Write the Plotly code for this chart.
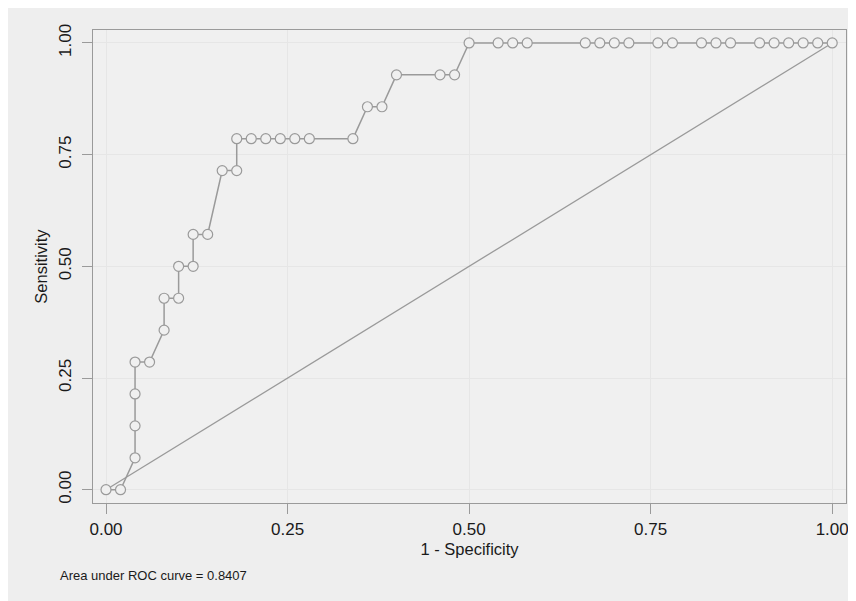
import plotly.graph_objects as go

# 1 - Specificity (false positive rate) and Sensitivity at each cutoff
fpr = [0.00, 0.02, 0.04, 0.04, 0.04, 0.04, 0.06, 0.08, 0.08, 0.10, 0.10, 0.12,
       0.12, 0.14, 0.16, 0.18, 0.18, 0.20, 0.22, 0.24, 0.26, 0.28, 0.34, 0.36,
       0.38, 0.40, 0.46, 0.48, 0.50, 0.54, 0.56, 0.58, 0.66, 0.68, 0.70, 0.72,
       0.76, 0.78, 0.82, 0.84, 0.86, 0.90, 0.92, 0.94, 0.96, 0.98, 1.00]
tpr_counts = [0, 0, 1, 2, 3, 4, 4, 5, 6, 6, 7, 7,
              8, 8, 10, 10, 11, 11, 11, 11, 11, 11, 11, 12,
              12, 13, 13, 13, 14, 14, 14, 14, 14, 14, 14, 14,
              14, 14, 14, 14, 14, 14, 14, 14, 14, 14, 14]
n_pos = 14
tpr = [c / n_pos for c in tpr_counts]

ref_x = [0, 1]
ref_y = [0, 1]

tick_vals = [0, 0.25, 0.5, 0.75, 1.0]
tick_text = ["0.00", "0.25", "0.50", "0.75", "1.00"]
auc_text = "Area under ROC curve = 0.8407"

BG = "#eeeeee"
PLOT_BG = "#f0f0f0"
GRAY = "#9a9a9a"
TXT = "#1a1a1a"
FONT = "Liberation Sans Narrow, Liberation Sans, Arial, sans-serif"

fig = go.Figure()
fig.add_trace(go.Scatter(x=ref_x, y=ref_y, mode="lines",
                         line=dict(color=GRAY, width=1.3), showlegend=False,
                         hoverinfo="skip"))
fig.add_trace(go.Scatter(x=fpr, y=tpr, mode="lines+markers",
                         line=dict(color=GRAY, width=1.5),
                         marker=dict(symbol="circle", size=10, color=PLOT_BG,
                                     line=dict(color=GRAY, width=1.2)),
                         showlegend=False))

axis_common = dict(
    tickmode="array", tickvals=tick_vals, ticktext=tick_text,
    showgrid=True, gridcolor="#e6e6e6", gridwidth=1,
    zeroline=False, showline=True, mirror=True, linecolor=GRAY, linewidth=1.2,
    ticks="outside", ticklen=10, tickcolor=GRAY, tickwidth=1.2,
    tickfont=dict(family=FONT, size=17, color=TXT),
    automargin=False,
)

fig.update_layout(
    width=848, height=593,
    margin=dict(l=85, r=10, t=22, b=98),
    paper_bgcolor=BG, plot_bgcolor=PLOT_BG,
    font=dict(family=FONT, color=TXT),
    xaxis=dict(range=[-0.0179, 1.019],
               title=dict(text="1 - Specificity", standoff=5,
                          font=dict(family=FONT, size=16.5, color=TXT)),
               **axis_common),
    yaxis=dict(range=[-0.0298, 1.029], tickangle=-90,
               ticklabelstandoff=4,
               title=dict(text="Sensitivity", standoff=4,
                          font=dict(family=FONT, size=16.5, color=TXT)),
               **axis_common),
    annotations=[dict(text=auc_text, xref="paper", yref="paper",
                      x=-0.046, y=-0.154, xanchor="left", yanchor="middle",
                      showarrow=False,
                      font=dict(family=FONT, size=13, color=TXT))],
)

fig.write_html("out.html")
